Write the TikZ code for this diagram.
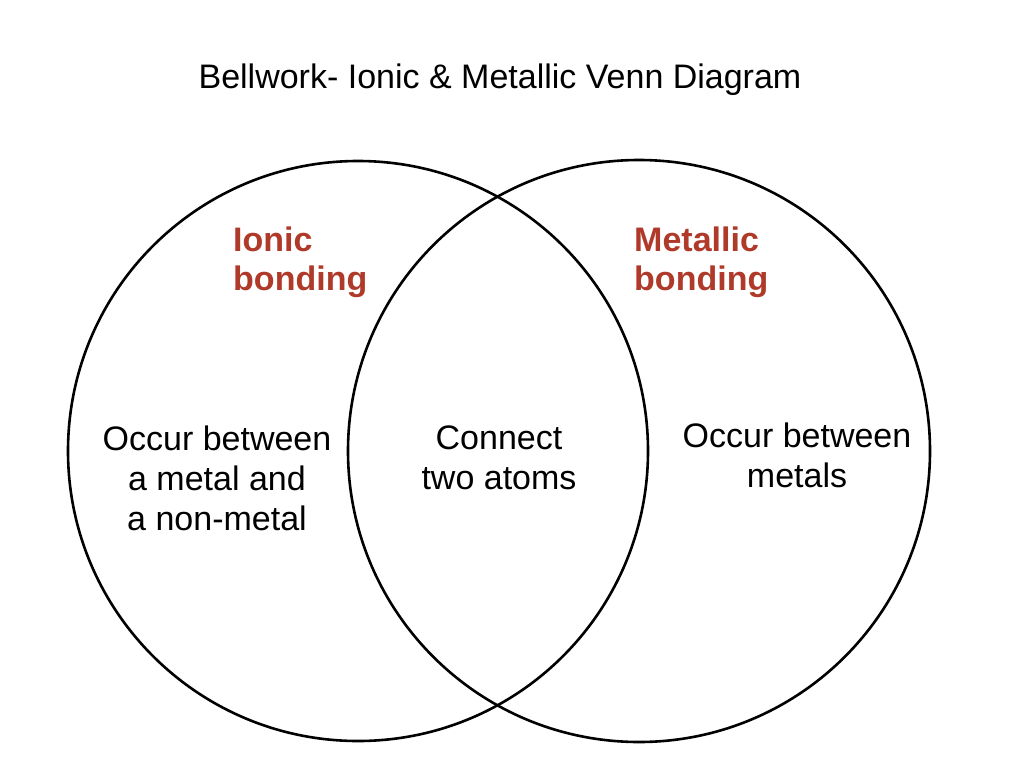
\documentclass[tikz,border=0pt]{standalone}
\usepackage{fontspec}
\setmainfont{Liberation Sans}
\begin{document}
\begin{tikzpicture}[x=1pt,y=-1pt,
  txt/.style={anchor=base,inner sep=0pt,font=\fontsize{34}{40}\selectfont,text=black},
  ttl/.style={txt,anchor=base west,font=\fontsize{34}{40}\selectfont\bfseries,text=setred},
  ring/.style={draw=black,line width=2.6pt}]
\definecolor{setred}{RGB}{176,58,42}
\path[fill=white,use as bounding box] (0,0) rectangle (1024,768);
% circles
\draw[ring] (358,451) circle[radius=290pt];
\draw[ring] (639,451) circle[radius=291pt];
% title
\node[txt] (title) at (500,88) {Bellwork- Ionic \& Metallic Venn Diagram};
% headings
\node[ttl] (ionic1) at (233,251) {Ionic};
\node[ttl] (ionic2) at (233,290) {bonding};
\node[ttl] (metal1) at (634,251) {Metallic};
\node[ttl] (metal2) at (634,290) {bonding};
% left text
\node[txt] (l1) at (217,450) {Occur between};
\node[txt] (l2) at (217,490) {a metal and};
\node[txt] (l3) at (217,530) {a non-metal};
% middle text
\node[txt] (m1) at (499,449) {Connect};
\node[txt] (m2) at (499,489) {two atoms};
% right text
\node[txt] (r1) at (797,447) {Occur between};
\node[txt] (r2) at (797,487) {metals};
\end{tikzpicture}
\end{document}
